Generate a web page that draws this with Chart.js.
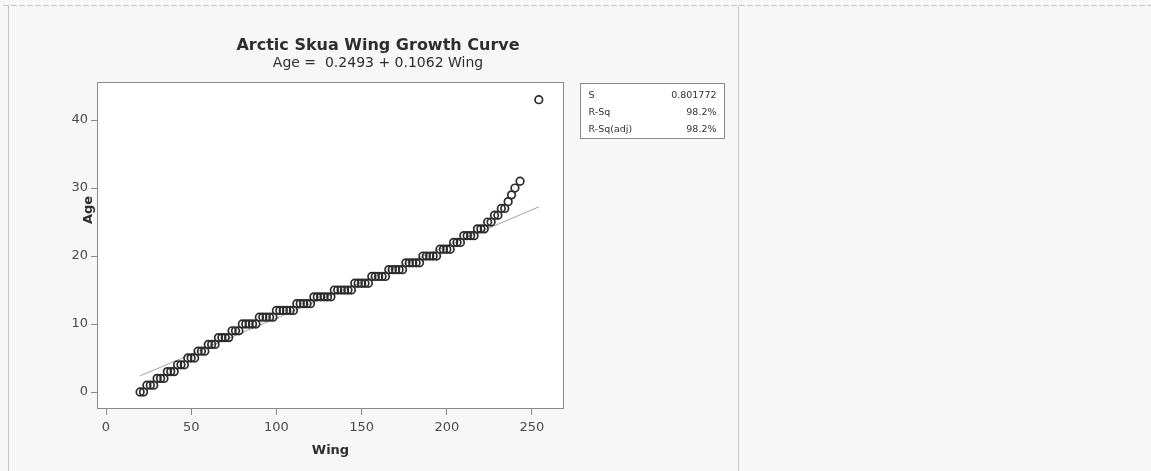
<!DOCTYPE html>
<html>
<head>
<meta charset="utf-8">
<title>Arctic Skua Wing Growth Curve</title>
<script src="https://cdn.jsdelivr.net/npm/chart.js@4/dist/chart.umd.min.js"></script>
<style>
  html, body { margin: 0; padding: 0; background: #f7f7f7; }
  #wrap { position: relative; width: 1151px; height: 471px; }
  canvas { display: block; }
</style>
</head>
<body>
<div id="wrap"><canvas id="growth" width="1151" height="471"></canvas></div>
<script>
// ---- text ----
const chartTitle = 'Arctic Skua Wing Growth Curve';
const fitLabel = 'Age =  0.2493 + 0.1062 Wing';
const xTitle = 'Wing';
const yTitle = 'Age';

// ---- fitted line: Age = intercept + slope * Wing ----
const intercept = 0.2493;
const slope = 0.1062;

// ---- fit summary ----
const statNames = ['S', 'R-Sq', 'R-Sq(adj)'];
const statValues = ['0.801772', '98.2%', '98.2%'];

// ---- axis ticks ----
const xTicks = [0, 50, 100, 150, 200, 250];
const yTicks = [0, 10, 20, 30, 40];

// ---- observations: wing length (mm) and age (days) ----
const wing = [
  20, 22,
  24, 26, 28,
  30, 32, 34,
  36, 38, 40,
  42, 44, 46,
  48, 50, 52,
  54, 56, 58,
  60, 62, 64,
  66, 68, 70, 72,
  74, 76, 78,
  80, 82, 84, 86, 88,
  90, 92, 94, 96, 98,
  100, 102, 104, 106, 108, 110,
  112, 114, 116, 118, 120,
  122, 124, 126, 128, 130, 132,
  134, 136, 138, 140, 142, 144,
  146, 148, 150, 152, 154,
  156, 158, 160, 162, 164,
  166, 168, 170, 172, 174,
  176, 178, 180, 182, 184,
  186, 188, 190, 192, 194,
  196, 198, 200, 202,
  204, 206, 208,
  210, 212, 214, 216,
  218, 220, 222,
  224, 226,
  228, 230,
  232, 234,
  236,
  238,
  240,
  243,
  254
];
const age = [
  0, 0,
  1, 1, 1,
  2, 2, 2,
  3, 3, 3,
  4, 4, 4,
  5, 5, 5,
  6, 6, 6,
  7, 7, 7,
  8, 8, 8, 8,
  9, 9, 9,
  10, 10, 10, 10, 10,
  11, 11, 11, 11, 11,
  12, 12, 12, 12, 12, 12,
  13, 13, 13, 13, 13,
  14, 14, 14, 14, 14, 14,
  15, 15, 15, 15, 15, 15,
  16, 16, 16, 16, 16,
  17, 17, 17, 17, 17,
  18, 18, 18, 18, 18,
  19, 19, 19, 19, 19,
  20, 20, 20, 20, 20,
  21, 21, 21, 21,
  22, 22, 22,
  23, 23, 23, 23,
  24, 24, 24,
  25, 25,
  26, 26,
  27, 27,
  28,
  29,
  30,
  31,
  43
];

const points = wing.map((w, i) => ({ x: w, y: age[i] }));
const wMin = Math.min(...wing);
const wMax = Math.max(...wing);
const fitPoints = [wMin, wMax].map(w => ({ x: w, y: intercept + slope * w }));

const FONT = 'DejaVu Sans';
const AXIS_GREY = '#8a8a8a';

// Page furniture, frame, titles and the summary box
const decorations = {
  id: 'decorations',
  beforeDraw(chart) {
    const { ctx, chartArea: a } = chart;
    ctx.save();
    ctx.fillStyle = '#f7f7f7';
    ctx.fillRect(0, 0, chart.width, chart.height);
    ctx.fillStyle = '#ffffff';
    ctx.fillRect(a.left, a.top, a.right - a.left, a.bottom - a.top);

    ctx.strokeStyle = '#c4c4c4';
    ctx.lineWidth = 1;
    ctx.setLineDash([6, 2]);
    ctx.beginPath();
    ctx.moveTo(3, 5.5); ctx.lineTo(chart.width, 5.5);
    ctx.stroke();
    ctx.setLineDash([]);
    ctx.beginPath();
    ctx.moveTo(8.5, 6); ctx.lineTo(8.5, chart.height);
    ctx.moveTo(738.5, 6); ctx.lineTo(738.5, chart.height);
    ctx.stroke();
    ctx.restore();
  },
  beforeDatasetsDraw(chart) {
    const { ctx, chartArea: a } = chart;
    ctx.save();
    ctx.strokeStyle = AXIS_GREY;
    ctx.lineWidth = 1;
    ctx.strokeRect(Math.round(a.left) - 0.5, Math.round(a.top) + 0.5,
                   Math.round(a.right - a.left) + 1, Math.round(a.bottom - a.top) - 1);
    ctx.restore();
  },
  afterDraw(chart) {
    const { ctx, chartArea: a } = chart;
    ctx.save();
    ctx.fillStyle = '#2e2e2e';
    ctx.textAlign = 'center';
    ctx.textBaseline = 'alphabetic';
    ctx.font = 'bold 16px "' + FONT + '"';
    ctx.fillText(chartTitle, 378, 50);
    ctx.font = '14px "' + FONT + '"';
    ctx.fillText(fitLabel, 378, 67);

    // axis titles
    ctx.font = 'bold 13px "' + FONT + '"';
    ctx.textBaseline = 'middle';
    ctx.fillText(xTitle, (a.left + a.right) / 2, 451);
    ctx.translate(89, 210);
    ctx.rotate(-Math.PI / 2);
    ctx.fillText(yTitle, 0, 0);
    ctx.setTransform(1, 0, 0, 1, 0, 0);

    // summary box
    const bx = 580.5, by = 83.5, bw = 144, bh = 55;
    ctx.strokeStyle = AXIS_GREY;
    ctx.lineWidth = 1;
    ctx.fillStyle = '#ffffff';
    ctx.fillRect(bx, by, bw, bh);
    ctx.strokeRect(bx, by, bw, bh);
    ctx.fillStyle = '#333333';
    ctx.font = '9.5px "' + FONT + '"';
    statNames.forEach((name, i) => {
      const y = 96 + i * 17;
      ctx.textAlign = 'left';
      ctx.fillText(name, bx + 8, y);
      ctx.textAlign = 'right';
      ctx.fillText(statValues[i], bx + bw - 8, y);
    });
    ctx.restore();
  }
};

new Chart(document.getElementById('growth'), {
  type: 'scatter',
  data: {
    datasets: [
      {
        label: 'Age',
        data: points,
        order: 0,
        pointStyle: 'circle',
        pointRadius: 3.8,
        pointBorderWidth: 1.7,
        borderColor: '#2b2b2b',
        backgroundColor: 'rgba(0,0,0,0)'
      },
      {
        label: 'Fit',
        data: fitPoints,
        type: 'line',
        order: 1,
        showLine: true,
        pointRadius: 0,
        borderColor: '#a3a3a3',
        borderWidth: 1,
        fill: false
      }
    ]
  },
  options: {
    responsive: false,
    animation: false,
    events: [],
    layout: { padding: { top: 82, right: 588, bottom: 0, left: 0 } },
    plugins: {
      legend: { display: false },
      title: { display: false },
      tooltip: { enabled: false }
    },
    scales: {
      x: {
        type: 'linear',
        position: 'bottom',
        min: -4.7,
        max: 268.2,
        afterBuildTicks: s => { s.ticks = xTicks.map(v => ({ value: v })); },
        afterFit: s => { s.height = 62; },
        border: { display: false },
        grid: { drawOnChartArea: false, color: AXIS_GREY, tickLength: 6 },
        ticks: {
          color: '#4a4a4a',
          font: { family: FONT, size: 13 },
          padding: 5,
          maxRotation: 0,
          autoSkip: false
        }
      },
      y: {
        type: 'linear',
        min: -2.5,
        max: 45.6,
        afterBuildTicks: s => { s.ticks = yTicks.map(v => ({ value: v })); },
        afterFit: s => { s.width = 98; },
        border: { display: false },
        grid: { drawOnChartArea: false, color: AXIS_GREY, tickLength: 7 },
        ticks: {
          color: '#4a4a4a',
          font: { family: FONT, size: 13 },
          padding: 3,
          autoSkip: false
        }
      }
    }
  },
  plugins: [decorations]
});
</script>
</body>
</html>
